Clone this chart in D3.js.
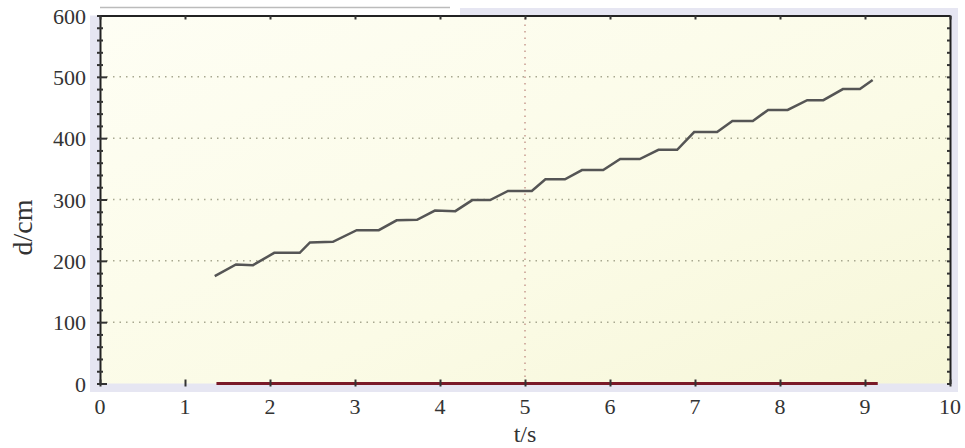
<!DOCTYPE html>
<html>
<head>
<meta charset="utf-8">
<script src="https://cdn.jsdelivr.net/npm/d3@7"></script>
<style>
  body { margin: 0; background: #fff; }
  svg { display: block; }
  text { font-family: "Liberation Serif", "Times New Roman", Tinos, serif; fill: #333; }
</style>
</head>
<body>
<div id="chart"></div>
<script>
// staircase distance readings (t in s, d in cm)
const times = [1.35, 1.60, 1.80, 2.05, 2.35, 2.47, 2.74, 3.02, 3.28, 3.49, 3.73, 3.94,
  4.18, 4.38, 4.59, 4.80, 5.08, 5.24, 5.47, 5.67, 5.92, 6.12, 6.35, 6.57, 6.79, 6.99,
  7.26, 7.44, 7.68, 7.86, 8.09, 8.32, 8.51, 8.74, 8.94, 9.09];
const distances = [175, 194, 193, 213, 213, 230, 231, 250, 250, 266, 267, 282,
  281, 299, 299, 314, 314, 333, 333, 348, 348, 366, 366, 381, 381, 410,
  410, 428, 428, 446, 446, 462, 462, 480, 480, 495];

// second series sitting on the time axis
const baseTimes = [1.37, 9.15];
const baseValues = [0, 0];

const xTicks = [0, 1, 2, 3, 4, 5, 6, 7, 8, 9, 10];
const yTicks = [0, 100, 200, 300, 400, 500, 600];
const yGrid = [100, 200, 300, 400, 500];
const xGrid = [5];

const WIDTH = 965;
const HEIGHT = 448;
const MARGIN_LEFT = 100;
const MARGIN_RIGHT = 15;
const MARGIN_TOP = 15.5;
const MARGIN_BOTTOM = 64.5;

const svg = d3.select('#chart').append('svg')
  .attr('width', WIDTH)
  .attr('height', HEIGHT);

const x = d3.scaleLinear().domain([0, 10]).range([MARGIN_LEFT, WIDTH - MARGIN_RIGHT]);
const y = d3.scaleLinear().domain([0, 600]).range([HEIGHT - MARGIN_BOTTOM, MARGIN_TOP]);

const defs = svg.append('defs');
const grad = defs.append('linearGradient').attr('id', 'bg')
  .attr('x1', '0%').attr('y1', '0%').attr('x2', '100%').attr('y2', '100%');
grad.append('stop').attr('offset', '0%').attr('stop-color', '#fefef4');
grad.append('stop').attr('offset', '60%').attr('stop-color', '#fbfbe6');
grad.append('stop').attr('offset', '100%').attr('stop-color', '#f6f6d8');

// lavender frame around the plot
svg.append('rect')
  .attr('x', x(0) - 10).attr('y', y(600) - 7.5)
  .attr('width', x(10) - x(0) + 18).attr('height', y(0) - y(600) + 16)
  .attr('fill', '#e6e6f2');
svg.append('rect')
  .attr('x', x(0) - 10).attr('y', y(600) - 8)
  .attr('width', 370).attr('height', 8)
  .attr('fill', '#fff');
svg.append('line')
  .attr('x1', x(0)).attr('x2', x(0) + 350)
  .attr('y1', y(600) - 8).attr('y2', y(600) - 8)
  .attr('stroke', '#bbb').attr('stroke-width', 1.5);

// plot background
svg.append('rect')
  .attr('x', x(0)).attr('y', y(600))
  .attr('width', x(10) - x(0)).attr('height', y(0) - y(600))
  .attr('fill', 'url(#bg)');

// grid
svg.append('g').selectAll('line').data(yGrid).join('line')
  .attr('x1', x(0)).attr('x2', x(10))
  .attr('y1', (d) => y(d)).attr('y2', (d) => y(d))
  .attr('stroke', '#a8a890').attr('stroke-width', 1.5)
  .attr('stroke-dasharray', '1.5,5');
svg.append('g').selectAll('line').data(xGrid).join('line')
  .attr('x1', (d) => x(d)).attr('x2', (d) => x(d))
  .attr('y1', y(0)).attr('y2', y(600))
  .attr('stroke', '#c89a90').attr('stroke-width', 1.5)
  .attr('stroke-dasharray', '1.5,5');

// axes: frame with ticks
const yMinor = d3.range(0, 601, 20);
const $left = svg.append('g').attr('transform', `translate(${x(0)},0)`)
  .call(d3.axisLeft(y).tickValues(yMinor).tickSize(0).tickFormat(''));
$left.select('.domain').attr('stroke', '#222').attr('stroke-width', 2);
$left.selectAll('.tick line').remove();
$left.selectAll('.tick').append('line')
  .attr('x1', -3).attr('x2', (d) => (d % 100 === 0 ? 7 : 3))
  .attr('stroke', '#333').attr('stroke-width', 2);

const $right = svg.append('g').attr('transform', `translate(${x(10)},0)`)
  .call(d3.axisRight(y).tickValues(yMinor).tickSize(0).tickFormat(''));
$right.select('.domain').attr('stroke', '#222').attr('stroke-width', 2);
$right.selectAll('.tick line').remove();
$right.selectAll('.tick').append('line')
  .attr('x1', -3).attr('x2', 0)
  .attr('stroke', '#333').attr('stroke-width', 2);

const $top = svg.append('g').attr('transform', `translate(0,${y(600)})`)
  .call(d3.axisTop(x).tickValues(xTicks).tickSize(0).tickFormat(''));
$top.select('.domain').attr('stroke', '#222').attr('stroke-width', 2);
$top.selectAll('.tick line').remove();
$top.selectAll('.tick').append('line')
  .attr('y1', 0).attr('y2', 4)
  .attr('stroke', '#333').attr('stroke-width', 2);

const $bottom = svg.append('g').attr('transform', `translate(0,${y(0)})`)
  .call(d3.axisBottom(x).tickValues(xTicks).tickSize(0).tickFormat(''));
$bottom.select('.domain').attr('stroke', '#222').attr('stroke-width', 2);
$bottom.selectAll('.tick line').remove();

// series along the axis
const line = d3.line().x((d) => x(d[0])).y((d) => y(d[1]));
svg.append('path')
  .datum(d3.zip(baseTimes, baseValues))
  .attr('d', line)
  .attr('fill', 'none')
  .attr('stroke', '#7a1a28')
  .attr('stroke-width', 3);

$bottom.raise();
$bottom.select('.domain').remove();
$bottom.selectAll('.tick').append('line')
  .attr('y1', -4).attr('y2', 3)
  .attr('stroke', '#333').attr('stroke-width', 2);

// staircase
svg.append('path')
  .datum(d3.zip(times, distances))
  .attr('d', line)
  .attr('fill', 'none')
  .attr('stroke', '#555')
  .attr('stroke-width', 2.5);

// labels
svg.append('g').selectAll('text').data(xTicks).join('text')
  .attr('x', (d) => x(d)).attr('y', y(0) + 30)
  .attr('text-anchor', 'middle')
  .style('font-size', '22px')
  .text((d) => d);
svg.append('g').selectAll('text').data(yTicks).join('text')
  .attr('x', x(0) - 14).attr('y', (d) => y(d) + 8)
  .attr('text-anchor', 'end')
  .style('font-size', '22px')
  .text((d) => d);

svg.append('text')
  .attr('x', x(5)).attr('y', HEIGHT - 6)
  .attr('text-anchor', 'middle')
  .style('font-size', '24px')
  .text('t/s');
svg.append('text')
  .attr('transform', `translate(32,${y(300) + 28}) rotate(-90)`)
  .attr('text-anchor', 'middle')
  .style('font-size', '28px')
  .text('d/cm');
</script>
</body>
</html>
